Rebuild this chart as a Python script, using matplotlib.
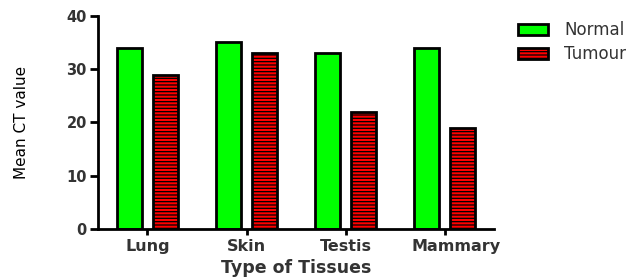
import numpy as np
import matplotlib.pyplot as plt
from matplotlib.transforms import ScaledTranslation

plt.rcParams['font.family'] = ['DejaVu Sans']
plt.rcParams['hatch.linewidth'] = 0.9

tissues = ["Lung", "Skin", "Testis", "Mammary"]
normal = [34.0, 35.2, 33.0, 34.0]
tumour = [29.0, 33.0, 22.0, 19.0]

fig = plt.figure(figsize=(6.36, 2.8), dpi=100)
ax = fig.add_axes([0.154, 0.182, 0.623, 0.761])

x = np.arange(len(tissues))
w = 0.25
ax.bar(x - 0.18, normal, w, color="#00ff00", edgecolor="black", linewidth=2, label="Normal")
ax.bar(x + 0.18, tumour, w, color="#ff0000", edgecolor="black", linewidth=2,
       hatch="-----", label="Tumour")

ax.set_xlim(-0.5, 3.5)
ax.set_ylim(0, 40)
ax.set_yticks([0, 10, 20, 30, 40])
ax.set_xticks(x)
ax.set_xticklabels(tissues, fontweight="bold", fontsize=11.5, color="#333333")
for t in ax.get_yticklabels():
    t.set_fontweight("bold")
    t.set_fontsize(10.5)
    t.set_color("#333333")
ax.tick_params(axis="y", width=2, length=6, pad=2)
ax.tick_params(axis="x", width=2, length=4, pad=3)
# last label sits a bit right of its tick in the original
lab = ax.get_xticklabels()[-1]
lab.set_transform(lab.get_transform() + ScaledTranslation(0.11, 0, fig.dpi_scale_trans))
for s in ["top", "right"]:
    ax.spines[s].set_visible(False)
for s in ["left", "bottom"]:
    ax.spines[s].set_linewidth(2)

ax.set_ylabel("Mean CT value", fontsize=11)
ax.yaxis.set_label_coords(-0.175, 0.5)
ax.set_xlabel("Type of Tissues", fontsize=12.5, fontweight="bold", labelpad=4, color="#333333")

fig.legend(loc="upper left", bbox_to_anchor=(0.815, 0.925), frameon=False, fontsize=12,
           borderpad=0, borderaxespad=0, handlelength=1.8, handleheight=0.66,
           handletextpad=0.95, labelspacing=0.38, labelcolor="#333333")

fig.savefig("out.png", dpi=100)
